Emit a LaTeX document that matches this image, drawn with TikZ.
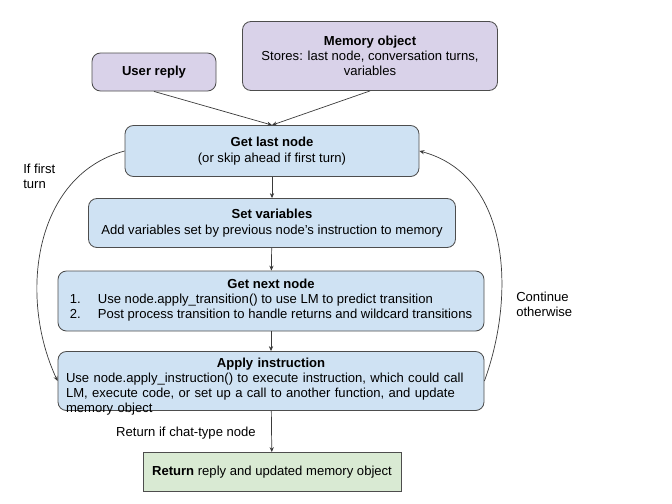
\documentclass[tikz,border=0pt]{standalone}
\usepackage{fontspec}
\setmainfont{Liberation Sans}
\usepackage{xcolor}
\usepackage{tikz}
\usetikzlibrary{arrows.meta}

\definecolor{purplefill}{HTML}{D9D2E9}
\definecolor{bluefill}{HTML}{CFE2F3}
\definecolor{greenfill}{HTML}{D9EAD3}
\definecolor{edgegray}{HTML}{4D4D4D}
\definecolor{linegray}{HTML}{3A3A3A}

\begin{document}
\begin{tikzpicture}[
		box/.style={draw=edgegray, line width=0.6pt, rounded corners=6pt, align=center, inner sep=1pt, font=\fontsize{9.3}{10.8}\selectfont},
		purplebox/.style={box, fill=purplefill},
		bluebox/.style={box, fill=bluefill},
		greenbox/.style={box, fill=greenfill, rounded corners=0pt},
		arr/.style={-{Stealth[length=3.5pt,width=3pt]}, draw=linegray, line width=0.5pt},
		lbl/.style={font=\fontsize{9.3}{10.8}\selectfont, align=left, inner sep=0pt}
	]
				\useasboundingbox (0,0) rectangle (16.8,-12.575);
				% top inputs
				\node[purplebox, minimum width=3.1cm, minimum height=0.95cm] (userreply) at (3.85,-1.8) {\textbf{User reply}};
				\node[purplebox, minimum width=6.375cm, minimum height=1.725cm] (memory) at (9.25,-1.4) {\textbf{Memory object}\\Stores: last node, conversation turns,\\variables};
				% main steps
				\node[bluebox, minimum width=7.35cm, minimum height=1.275cm] (lastnode) at (6.8,-3.775) {\textbf{Get last node}\\[1pt](or skip ahead if first turn)};
				\node[bluebox, minimum width=9.175cm, minimum height=1.225cm] (setvars) at (6.8,-5.575) {\textbf{Set variables}\\[1pt]Add variables set by previous node’s instruction to memory};
				\node[bluebox, minimum width=10.65cm, minimum height=1.5cm] (nextnode) at (6.775,-7.525) {\textbf{Get next node}\\[1.5pt]
					\begin{tabular}{@{}p{0.7cm}@{}l@{}}
						1. & Use node.apply\_transition() to use LM to predict transition\\
						2. & Post process transition to handle returns and wildcard transitions
					\end{tabular}};
				\node[bluebox, minimum width=10.65cm, minimum height=1.475cm, text width=10.25cm, align=left, inner ysep=0pt, text height=11pt, text depth=30.5pt] (applyinstr) at (6.775,-9.525) {\makebox[10.25cm]{\textbf{Apply instruction}}\\
					Use node.apply\_instruction() to execute instruction, which could call\\
					LM, execute code, or set up a call to another function, and update\\
					memory object};
				\node[greenbox, minimum width=6.45cm, minimum height=0.975cm] (returnbox) at (6.8,-11.8) {\textbf{Return} reply and updated memory object};
				% connectors
				\draw[arr] (userreply.south) -- (lastnode.north);
				\draw[arr] (memory.south) -- (lastnode.north);
				\draw[arr] (lastnode) -- (setvars);
				\draw[arr] (setvars) -- (nextnode);
				\draw[arr] (nextnode) -- (applyinstr);
				\draw[arr] (applyinstr) -- (returnbox) node[lbl, pos=0.55, left=11pt] (returnlbl) {Return if chat-type node};
				\draw[arr] (lastnode.west) to[out=195, in=115] (applyinstr.west);
				\draw[arr] (applyinstr.east) to[out=70, in=-15] (lastnode.east);
				% loop labels
				\node[lbl, anchor=north west] (firstturn) at (0.575,-4.1) {If first\\turn};
				\node[lbl, anchor=north west] (continuelbl) at (12.9,-7.3) {Continue\\otherwise};
			\end{tikzpicture}
\end{document}
